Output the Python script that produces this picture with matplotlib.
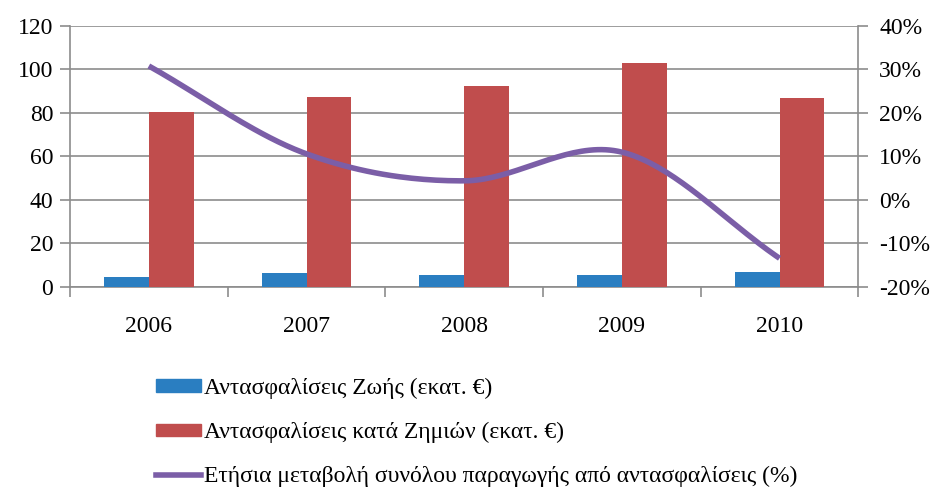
import numpy as np
import matplotlib
matplotlib.use("Agg")
import matplotlib.pyplot as plt
from matplotlib.patches import Patch
from matplotlib.lines import Line2D
from matplotlib.ticker import FixedLocator

plt.rcParams['font.family'] = ['Liberation Serif', 'DejaVu Serif']

years = ['2006', '2007', '2008', '2009', '2010']
life = [4.6, 6.4, 5.5, 5.5, 7.0]
damage = [80.4, 87.4, 92.4, 103.0, 87.0]
change_pct = [30.8, 10.6, 4.4, 11.0, -13.4]

labels = ['Αντασφαλίσεις Ζωής (εκατ. €)',
          'Αντασφαλίσεις κατά Ζημιών (εκατ. €)',
          'Ετήσια μεταβολή συνόλου παραγωγής από αντασφαλίσεις (%)']
c_blue = '#2a7ec1'
c_red = '#c04d4d'
c_purple = '#7b5ea7'
grid_c = '#8c8c8c'


def catmull_rom(xs, ys, n=40):
    # smooth curve through the points, like the spreadsheet "smoothed line"
    pts = np.column_stack([xs, ys]).astype(float)
    ext = np.vstack([2 * pts[0] - pts[1], pts, 2 * pts[-1] - pts[-2]])
    out = []
    for i in range(1, len(ext) - 2):
        p0, p1, p2, p3 = ext[i - 1], ext[i], ext[i + 1], ext[i + 2]
        t = np.linspace(0, 1, n)[:, None]
        seg = 0.5 * ((2 * p1) + (-p0 + p2) * t + (2 * p0 - 5 * p1 + 4 * p2 - p3) * t ** 2
                     + (-p0 + 3 * p1 - 3 * p2 + p3) * t ** 3)
        out.append(seg)
    out = np.vstack(out)
    return out[:, 0], out[:, 1]


fig = plt.figure(figsize=(9.51, 4.87), dpi=100)
ax = fig.add_axes([0.0736, 0.4107, 0.829, 0.536])
x = np.arange(len(years))
w = 0.285
ax.bar(x - w / 2, life, w, color=c_blue, zorder=3)
ax.bar(x + w / 2, damage, w, color=c_red, zorder=3)
ax.set_xlim(-0.5, len(years) - 0.5)
ax.set_ylim(0, 120)
ax.set_yticks(range(0, 121, 20))
ax.yaxis.grid(True, color=grid_c, linewidth=1.2, zorder=0)
ax.set_xticks(x)
ax.set_xticklabels(years)
ax.xaxis.set_minor_locator(FixedLocator(np.arange(-0.5, len(years), 1.0)))
ax.tick_params(axis='x', which='major', length=0, pad=21, labelsize=17)
ax.tick_params(axis='x', which='minor', length=7, color=grid_c, width=1.2)
ax.tick_params(axis='y', length=7, color=grid_c, width=1.2, labelsize=17, pad=5)
for s in ['left', 'bottom']:
    ax.spines[s].set_color(grid_c)
    ax.spines[s].set_linewidth(1.2)
ax.spines['top'].set_visible(False)
ax.spines['right'].set_visible(False)

ax2 = ax.twinx()
ax2.set_ylim(-20, 40)
ax2.set_yticks(range(-20, 41, 10))
ax2.set_yticklabels([f'{v}%' for v in range(-20, 41, 10)])
ax2.tick_params(axis='y', length=7, color=grid_c, width=1.2, labelsize=17, pad=8)
ax2.spines['right'].set_color(grid_c)
ax2.spines['right'].set_linewidth(1.2)
for s in ['left', 'top', 'bottom']:
    ax2.spines[s].set_visible(False)
sx, sy = catmull_rom(x, change_pct)
ax2.plot(sx, sy, color=c_purple, linewidth=4, solid_capstyle='butt', zorder=4)

handles = [Patch(color=c_blue), Patch(color=c_red),
           Line2D([0], [0], color=c_purple, linewidth=4)]
fig.legend(handles, labels, loc='upper left', bbox_to_anchor=(0.152, 0.248),
           frameon=False, fontsize=17, handlelength=1.9, handleheight=0.45,
           handletextpad=0.12, labelspacing=0.97, borderpad=0)

fig.savefig('out.png', dpi=100)
